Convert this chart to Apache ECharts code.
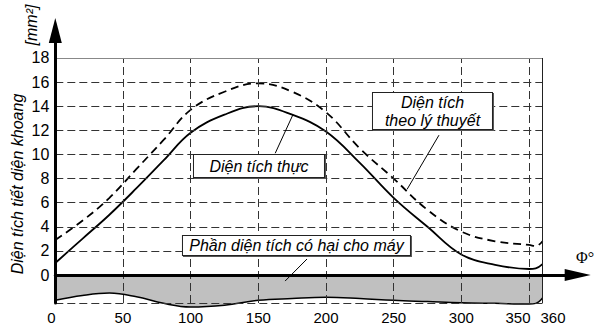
<!DOCTYPE html>
<html>
<head>
<meta charset="utf-8">
<script src="https://cdn.jsdelivr.net/npm/echarts@6.0.0/dist/echarts.min.js"></script>
<style>
  html, body { margin: 0; padding: 0; background: #fff; }
  #main { width: 599px; height: 331px; }
</style>
</head>
<body>
<div id="main"></div>
<script>
// goc quay (do)
var phi = [0, 20, 40, 60, 80, 100, 125, 150, 175, 200, 225, 250, 275, 300, 325, 350, 355, 360];
// dien tich theo ly thuyet (net dut)
var theory = [2.9, 4.5, 6.4, 8.8, 11.2, 13.7, 15.2, 15.9, 15.2, 13.5, 10.5, 8.0, 5.4, 3.6, 2.8, 2.5, 2.4, 2.8];
// dien tich thuc (net lien)
var actual = [1.0, 3.0, 5.0, 7.2, 9.5, 11.8, 13.3, 14.0, 13.3, 11.9, 9.3, 6.4, 4.0, 1.7, 0.85, 0.5, 0.55, 0.9];
// phan dien tich co hai (vung xam)
var harmful = [-2.1, -1.7, -1.5, -1.8, -2.35, -2.65, -2.5, -2.1, -1.95, -1.85, -1.95, -2.1, -2.2, -2.3, -2.35, -2.4, -2.35, -1.9];

var xTicks = [0, 50, 100, 150, 200, 250, 300, 350, 360];
var yTicks = [0, 2, 4, 6, 8, 10, 12, 14, 16, 18];
var xGrid = [50, 100, 150, 200, 250, 300, 350];
var yGrid = [2, 4, 6, 8, 10, 12, 14, 16];
var yBottom = -2.32, yTop = 18, xEnd = 360;

var boxNames = ['Diện tích thực', 'Diện tích\ntheo lý thuyết', 'Phần diện tích có hại cho máy'];
var boxAt = [[150.5, 9.04], [278.7, 13.6], [178.2, 2.45]];
var leaders = [[[162.5, 10.1], [175.6, 13.3]], [[283.5, 11.6], [259.9, 7.1]], [[186, 1.33], [169.8, -0.5]]];

var font = 'Liberation Sans, Arial, sans-serif';
var dash = { color: '#333', width: 1, type: [8, 4] };

function pts(ys) {
    return phi.map(function (x, i) { return [x, ys[i]]; });
}

// luoi: net dut doc / ngang, vien tren va phai
var gridLines = [];
xGrid.forEach(function (x) {
    gridLines.push([{ coord: [x, yBottom], lineStyle: dash }, { coord: [x, yTop] }]);
});
yGrid.forEach(function (y) {
    gridLines.push([{ coord: [0, y], lineStyle: dash }, { coord: [xEnd, y] }]);
});
gridLines.push([{ coord: [0, yBottom], lineStyle: dash }, { coord: [xEnd, yBottom] }]);
gridLines.push([{ coord: [0, yTop], lineStyle: { color: '#888', width: 1, type: 'solid' } }, { coord: [xEnd, yTop] }]);
gridLines.push([{ coord: [xEnd, yBottom], lineStyle: { color: '#222', width: 1, type: 'solid' } }, { coord: [xEnd, yTop] }]);

var boxSize = [[130, 22], [119, 36], [227, 19]];
var boxes = boxNames.map(function (n, i) {
    return {
        name: n,
        coord: boxAt[i],
        label: { width: boxSize[i][0], height: boxSize[i][1], lineHeight: 18 }
    };
});
var leaderLines = leaders.map(function (l) {
    return [{ coord: l[0] }, { coord: l[1] }];
});

var shift = { 0: [0, 8, 0, 0], 350: [0, 22, 0, 0], 360: [0, 0, 0, 21] };

var myChart = echarts.init(document.getElementById('main'), null, { renderer: 'svg' });
var option = {
    animation: false,
    backgroundColor: '#fff',
    grid: { left: 55.3, right: 21.3, top: 30.5, bottom: 28, containLabel: false },
    xAxis: [{
        type: 'value', min: 0, max: 386, position: 'bottom', z: 10,
        axisLine: { onZero: true, lineStyle: { color: '#000', width: 3 }, symbol: ['none', 'triangle'], symbolSize: [12, 26] },
        axisTick: { show: false }, axisLabel: { show: false }, splitLine: { show: false }
    }, {
        type: 'value', min: 0, max: 386, position: 'bottom',
        axisLine: { show: false, onZero: false },
        axisTick: { show: false }, splitLine: { show: false },
        axisLabel: {
            customValues: xTicks, margin: 7, fontSize: 15, color: '#000', fontFamily: font,
            formatter: function (v) { return shift[v] ? '{s' + v + '|' + v + '}' : '' + v; },
            rich: {
                s0: { padding: shift[0], fontSize: 15, fontFamily: font, color: '#000' },
                s350: { padding: shift[350], fontSize: 15, fontFamily: font, color: '#000' },
                s360: { padding: shift[360], fontSize: 15, fontFamily: font, color: '#000' }
            }
        }
    }],
    yAxis: {
        type: 'value', min: yBottom, max: 20.28, z: 10,
        axisLine: { lineStyle: { color: '#000', width: 3 }, symbol: ['none', 'triangle'], symbolSize: [13, 25] },
        axisTick: { show: false }, splitLine: { show: false },
        axisLabel: { customValues: yTicks, margin: 6, fontSize: 16, color: '#000', fontFamily: font }
    },
    graphic: [{
        // ten truc tung
        type: 'text', x: 17, y: 184, rotation: Math.PI / 2,
        style: { text: 'Diện tích tiết diện khoang', x: 0, y: 0, align: 'center', verticalAlign: 'middle',
            fontSize: 16, fontStyle: 'italic', fontFamily: font, fill: '#000' }
    }, {
        type: 'text', x: 31, y: 25, rotation: Math.PI / 2,
        style: { text: '[mm²]', x: 0, y: 0, align: 'center', verticalAlign: 'middle',
            fontSize: 16, fontStyle: 'italic', fontFamily: font, fill: '#000' }
    }, {
        type: 'text', x: 585, y: 257,
        style: { text: 'Φ°', x: 0, y: 0, align: 'center', verticalAlign: 'middle',
            fontSize: 16, fontFamily: 'Liberation Serif, serif', fill: '#000' }
    }],
    series: [{
        name: 'harmful', type: 'line', data: pts(harmful), smooth: 0.4, symbol: 'none', clip: false, z: 1,
        lineStyle: { color: '#000', width: 1.5 },
        areaStyle: { color: '#c0c0c0', opacity: 1 }
    }, {
        name: 'grid', type: 'line', data: [], z: 3, silent: true,
        markLine: { silent: true, symbol: ['none', 'none'], label: { show: false }, data: gridLines }
    }, {
        name: 'theory', type: 'line', data: pts(theory), smooth: 0.4, symbol: 'none', z: 4,
        lineStyle: { color: '#000', width: 1.8, type: [8, 5] }
    }, {
        name: 'actual', type: 'line', data: pts(actual), smooth: 0.4, symbol: 'none', z: 4,
        lineStyle: { color: '#000', width: 1.8 }
    }, {
        name: 'notes', type: 'line', data: [], z: 6, silent: true,
        markLine: {
            silent: true, symbol: ['none', 'none'], label: { show: false },
            lineStyle: { color: '#000', width: 1, type: 'solid' }, data: leaderLines
        },
        markPoint: {
            silent: true, symbol: 'rect', symbolSize: 1, itemStyle: { color: 'rgba(0,0,0,0)' },
            label: {
                show: true, position: 'inside', formatter: '{b}', align: 'center', verticalAlign: 'middle',
                fontSize: 16, fontStyle: 'italic', fontFamily: font, color: '#000',
                backgroundColor: '#fff', borderColor: '#222', borderWidth: 1,
                shadowColor: '#555', shadowOffsetX: 1, shadowOffsetY: 1, shadowBlur: 0
            },
            data: boxes
        }
    }]
};
myChart.setOption(option);
window.onresize = function () {
    myChart.resize();
};
</script>
</body>
</html>
